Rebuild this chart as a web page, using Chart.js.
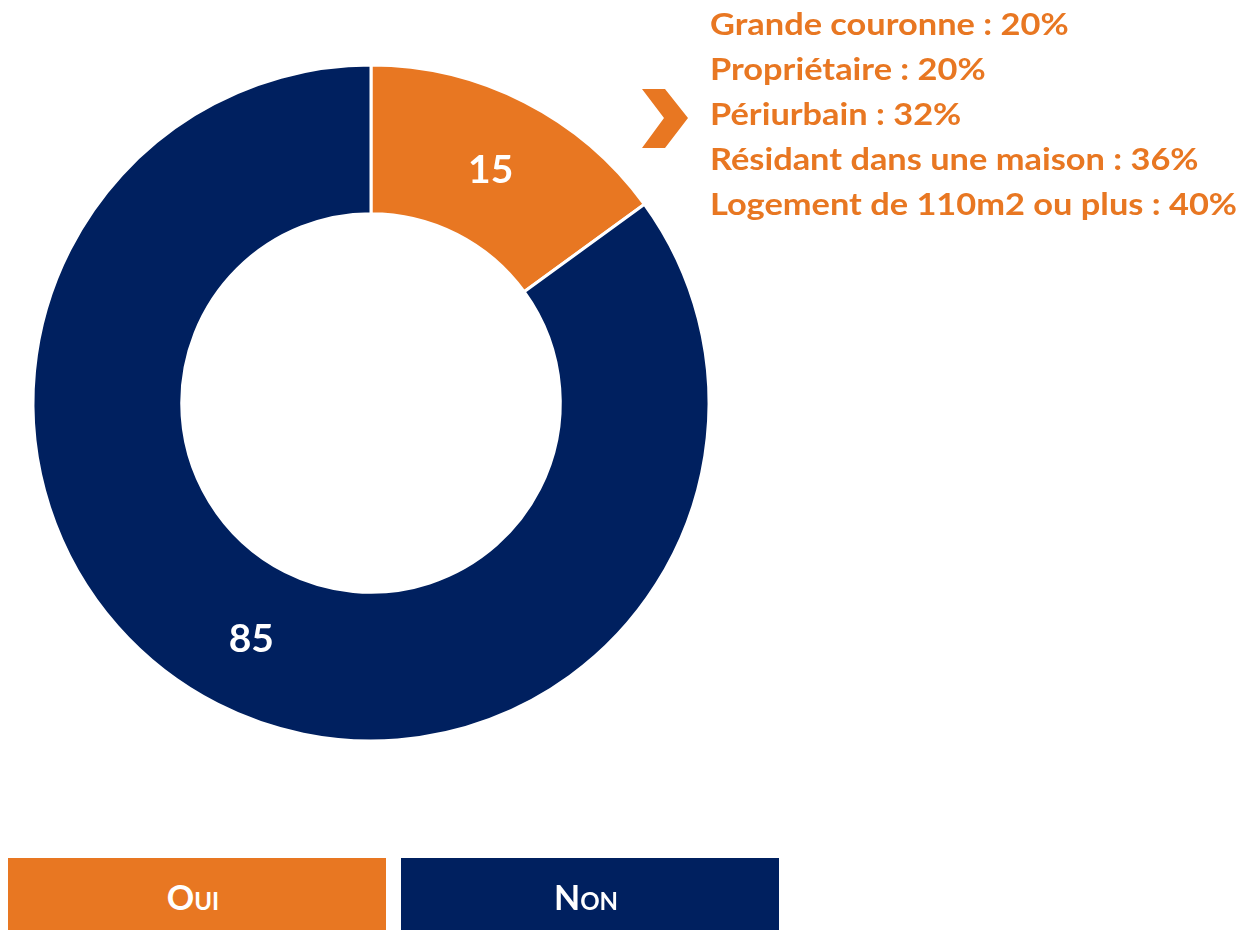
<!DOCTYPE html>
<html>
<head>
<meta charset="utf-8">
<script src="https://cdn.jsdelivr.net/npm/chart.js@4"></script>
<style>
  html, body { margin: 0; padding: 0; background: #fff; }
  #wrap { position: relative; width: 1243px; height: 930px; overflow: hidden; }
  #legend .box {
    position: absolute; top: 858px; width: 378px; height: 72px;
    display: flex; align-items: center; justify-content: center;
    color: #fff; font-family: Lato, sans-serif; font-weight: bold;
    font-size: 34px; font-variant: small-caps;
  }
  #legend .box span { display: inline-block; transform: translate(-4px, 2px); }
</style>
</head>
<body>
<div id="wrap">
  <canvas id="chart" width="1243" height="930"></canvas>
  <div id="legend"></div>
</div>
<script>
const categories = ["Oui", "Non"];
const values = [15, 85];
const colors = ["#E87722", "#00205F"];

// texte du profil "Oui"
const profileLabels = [
  "Grande couronne",
  "Propriétaire",
  "Périurbain",
  "Résidant dans une maison",
  "Logement de 110m2 ou plus",
];
const profileValues = [20, 20, 32, 36, 40];

const sliceLabels = {
  id: "sliceLabels",
  afterDatasetsDraw(chart) {
    const ctx = chart.ctx;
    const meta = chart.getDatasetMeta(0);
    ctx.save();
    ctx.fillStyle = "#fff";
    ctx.font = "bold 39px Lato, sans-serif";
    ctx.textAlign = "center";
    ctx.textBaseline = "middle";
    meta.data.forEach((arc, i) => {
      const p = arc.tooltipPosition();
      ctx.fillText(values[i], p.x, p.y + 2);
    });
    ctx.restore();
  },
};

const profileText = {
  id: "profileText",
  afterDraw(chart) {
    const ctx = chart.ctx;
    ctx.save();
    ctx.fillStyle = colors[0];
    // chevron
    ctx.beginPath();
    ctx.moveTo(642, 89);
    ctx.lineTo(665, 89);
    ctx.lineTo(688, 118);
    ctx.lineTo(665, 148);
    ctx.lineTo(642, 148);
    ctx.lineTo(664, 118);
    ctx.closePath();
    ctx.fill();

    ctx.font = "bold 31px Lato, sans-serif";
    ctx.textAlign = "left";
    ctx.textBaseline = "alphabetic";
    const lines = profileLabels.map((lab, i) => lab + " : " + profileValues[i] + "%");
    const widest = Math.max(...lines.map((l) => ctx.measureText(l).width));
    const sx = 527 / widest;
    lines.forEach((l, i) => {
      ctx.save();
      ctx.translate(710, 35 + i * 45);
      ctx.scale(sx, 1);
      ctx.fillText(l, 0, 0);
      ctx.restore();
    });
    ctx.restore();
  },
};

new Chart(document.getElementById("chart").getContext("2d"), {
  type: "doughnut",
  data: {
    labels: categories,
    datasets: [
      {
        data: values,
        backgroundColor: colors,
        borderColor: "#fff",
        borderWidth: 3,
      },
    ],
  },
  options: {
    responsive: false,
    animation: false,
    cutout: "56%",
    layout: {
      padding: { left: 31.5, top: 63.5, right: 532.5, bottom: 187.5 },
    },
    plugins: {
      legend: { display: false },
      tooltip: { enabled: false },
    },
  },
  plugins: [sliceLabels, profileText],
});

const legend = document.getElementById("legend");
categories.forEach((c, i) => {
  const d = document.createElement("div");
  d.className = "box";
  d.style.left = 8 + i * 393 + "px";
  d.style.background = colors[i];
  d.innerHTML = "<span>" + c + "</span>";
  legend.appendChild(d);
});
</script>
</body>
</html>
